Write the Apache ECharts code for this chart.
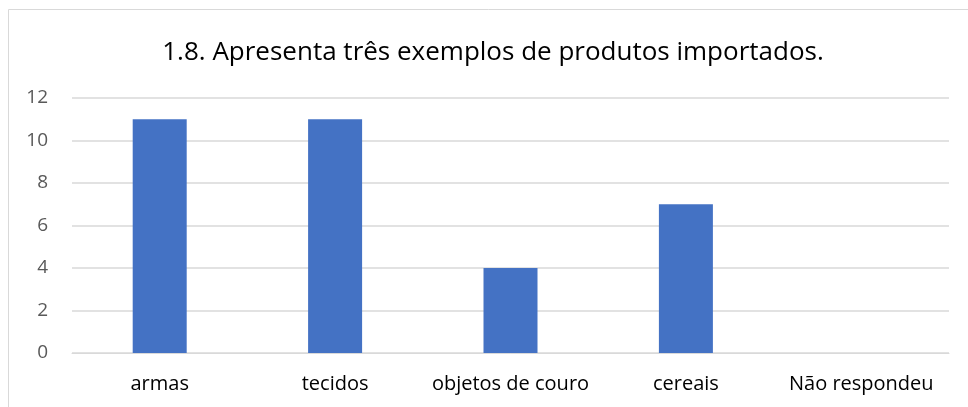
<!DOCTYPE html>
<html>
<head>
<meta charset="utf-8">
<script src="https://cdn.jsdelivr.net/npm/echarts@6/dist/echarts.min.js"></script>
<style>
  html, body { margin: 0; padding: 0; background: #fff; }
  #chart { width: 968px; height: 407px; }
</style>
</head>
<body>
<div id="chart"></div>
<script>
// Data
const categories = ['armas', 'tecidos', 'objetos de couro', 'cereais', 'Não respondeu'];
const counts = [11, 11, 4, 7, 0];
const titleText = '1.8. Apresenta três exemplos de produtos importados.';

const chart = echarts.init(document.getElementById('chart'));

const option = {
    animation: false,
    textStyle: { fontFamily: '"Open Sans", sans-serif' },
    title: {
        text: titleText,
        left: 488,
        top: 35,
        textAlign: 'center',
        textStyle: { fontSize: 26, fontWeight: 'normal', color: '#000', fontFamily: '"Open Sans", sans-serif' }
    },
    graphic: [{
        type: 'rect',
        shape: { x: 8.5, y: 9.5, width: 1000, height: 500 },
        style: { fill: 'none', stroke: '#d9d9d9', lineWidth: 1 },
        silent: true
    }],
    grid: { left: 72, right: 19, top: 98, bottom: 54 },
    xAxis: {
        type: 'category',
        data: categories,
        axisLine: { show: true, lineStyle: { color: '#d9d9d9' } },
        axisTick: { show: false },
        axisLabel: { interval: 0, color: '#000', fontSize: 20, margin: 21, fontFamily: '"Open Sans", sans-serif' }
    },
    yAxis: {
        type: 'value',
        min: 0,
        max: 12,
        interval: 2,
        axisLine: { show: false },
        axisTick: { show: false },
        splitLine: { lineStyle: { color: '#d9d9d9', width: 1.5 } },
        axisLabel: { color: '#595959', fontSize: 19, margin: 24, fontFamily: '"Open Sans", sans-serif' }
    },
    series: [{
        type: 'bar',
        data: counts,
        barWidth: 54,
        itemStyle: { color: '#4472c4' }
    }]
};

chart.setOption(option);
</script>
</body>
</html>
